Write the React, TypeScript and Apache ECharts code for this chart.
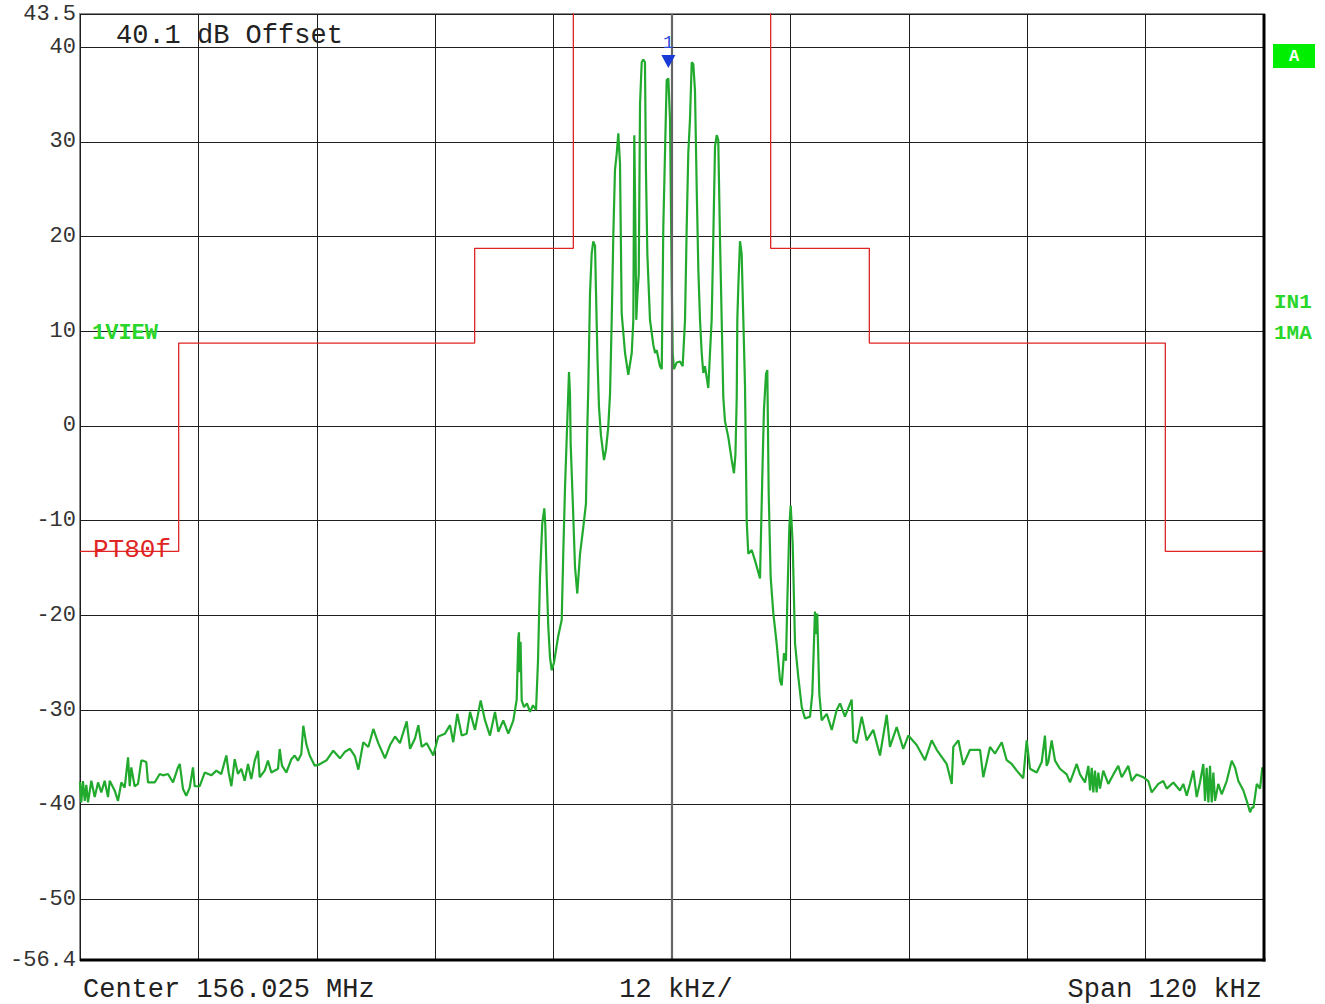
import React, { useEffect, useRef } from "react";
import * as echarts from "echarts";

// Axis ranges (kHz offset from centre, dB)
const FREQ_MIN = -60;
const FREQ_MAX = 60;
const FREQ_DIV = 12;
const LEVEL_MAX = 43.5;
const LEVEL_MIN = -56.4;

// Annotation texts
const OFFSET_TEXT = "40.1 dB Offset";
const CENTER_TEXT = "Center 156.025 MHz";
const DIV_TEXT = "12 kHz/";
const SPAN_TEXT = "Span 120 kHz";
const TRACE_LABEL = "1VIEW";
const LIMIT_LABEL = "PT80f";
const SIDE_LABELS = ["IN1", "1MA"];

// Marker 1
const MARKER_KHZ = -0.37;
const MARKER_DB = 36.7;

// Trace: left noise floor [kHz, dB]
const noiseLeft: number[][] = [
  [-60.0, -37.6], [-59.87, -39.75], [-59.7, -37.5], [-59.52, -39.6], [-59.36, -37.9],
  [-59.19, -39.75], [-58.85, -37.47], [-58.51, -39.2], [-58.17, -37.65], [-57.84, -38.7],
  [-57.5, -37.47], [-57.16, -39.2], [-56.99, -37.47], [-56.48, -38.52], [-56.15, -39.6],
  [-55.81, -37.65], [-55.47, -38.2], [-55.13, -35.0], [-54.96, -38.05], [-54.8, -36.06],
  [-54.46, -38.05], [-54.12, -37.8], [-53.79, -35.35], [-53.62, -35.35], [-53.28, -35.5],
  [-53.11, -37.65], [-52.43, -37.65], [-51.92, -36.76], [-51.59, -36.9], [-51.08, -36.76],
  [-50.57, -37.65], [-50.07, -36.06], [-49.89, -35.7], [-49.56, -38.35], [-49.23, -39.05],
  [-48.88, -38.2], [-48.55, -36.06], [-48.38, -38.05], [-47.87, -38.05], [-47.36, -36.6],
  [-46.69, -36.9], [-46.18, -36.4], [-45.68, -36.76], [-45.17, -34.8], [-44.93, -36.6],
  [-44.66, -38.05], [-44.32, -35.2], [-43.99, -36.76], [-43.65, -36.2], [-43.31, -37.47],
  [-42.97, -35.7], [-42.64, -37.3], [-42.29, -35.35], [-41.96, -34.3], [-41.79, -37.1],
  [-41.28, -36.4], [-40.95, -35.35], [-40.61, -36.6], [-39.93, -36.2], [-39.76, -34.12],
  [-39.53, -35.88], [-39.09, -36.6], [-38.58, -35.2], [-38.24, -34.8], [-37.91, -35.35],
  [-37.57, -34.65], [-37.37, -31.66], [-37.06, -33.6], [-36.72, -34.8], [-36.21, -35.88],
  [-35.85, -35.8], [-35.0, -35.3], [-34.33, -34.3], [-33.65, -35.1], [-33.14, -34.4],
  [-32.63, -34.1], [-32.13, -34.9], [-31.79, -36.3], [-31.29, -33.4], [-30.78, -33.9],
  [-30.27, -32.0], [-29.77, -33.5], [-29.09, -35.1], [-28.58, -33.7], [-28.07, -32.8],
  [-27.57, -33.5], [-26.89, -31.2], [-26.55, -34.1], [-26.05, -33.0], [-25.71, -31.6],
  [-25.37, -33.9], [-24.86, -33.5], [-24.19, -34.8], [-23.69, -32.8], [-23.01, -32.5],
  [-22.5, -31.6], [-22.17, -33.4], [-21.76, -30.4], [-21.31, -32.7], [-20.81, -32.5],
  [-20.47, -30.2], [-19.97, -32.1], [-19.39, -29.0], [-18.95, -31.1], [-18.45, -32.7],
  [-17.94, -30.2], [-17.6, -32.3], [-17.1, -31.1], [-16.59, -32.5], [-16.08, -31.1],
  [-15.74, -28.9],
];

// Trace: modulated carrier
const mainLobe: number[][] = [
  [-15.58, -22.5], [-15.51, -21.8], [-15.44, -26.0], [-15.35, -22.8], [-15.23, -29.0],
  [-15.0, -29.7], [-14.7, -29.3], [-14.39, -30.2], [-14.09, -29.5], [-13.78, -30.0],
  [-13.58, -24.8], [-13.38, -16.0], [-13.15, -10.3], [-12.94, -8.7], [-12.84, -10.5],
  [-12.7, -16.0], [-12.54, -21.2], [-12.36, -24.5], [-12.19, -25.8], [-11.96, -25.0],
  [-11.55, -22.3], [-11.18, -20.5], [-11.02, -13.5], [-10.84, -6.4], [-10.61, 0.6],
  [-10.44, 5.7], [-10.34, 3.4], [-10.27, -1.9], [-10.06, -7.9], [-9.83, -14.9],
  [-9.6, -17.7], [-9.32, -13.5], [-8.99, -10.7], [-8.72, -8.2], [-8.58, -0.1],
  [-8.48, 4.2], [-8.31, 14.0], [-8.14, 18.2], [-7.98, 19.5], [-7.8, 19.0],
  [-7.7, 14.0], [-7.55, 7.0], [-7.4, 2.0], [-7.2, -1.0], [-6.89, -3.6],
  [-6.69, -2.5], [-6.46, -0.1], [-6.28, 3.4], [-6.11, 11.2], [-5.95, 20.0],
  [-5.78, 27.0], [-5.6, 28.8], [-5.44, 30.9], [-5.27, 27.7], [-5.1, 11.9],
  [-4.76, 7.7], [-4.43, 5.4], [-4.08, 7.7], [-3.92, 11.2], [-3.82, 30.7],
  [-3.72, 21.8], [-3.62, 11.2], [-3.5, 14.0], [-3.37, 16.0], [-3.24, 34.0],
  [-3.07, 38.4], [-2.91, 38.7], [-2.74, 38.4], [-2.64, 27.0], [-2.5, 18.2],
  [-2.23, 11.2], [-1.9, 8.6], [-1.72, 7.7], [-1.55, 8.0], [-1.22, 6.3],
  [-1.04, 6.0], [-0.88, 21.0], [-0.71, 28.8], [-0.54, 36.5], [-0.37, 36.7],
  [-0.2, 32.3], [-0.03, 15.4], [0.07, 7.7], [0.2, 6.0], [0.48, 6.7],
  [0.81, 6.8], [1.08, 6.3], [1.32, 11.2], [1.49, 21.0], [1.65, 28.8],
  [1.82, 32.3], [2.0, 38.4], [2.16, 38.2], [2.33, 35.4], [2.5, 25.3],
  [2.67, 16.5], [2.84, 11.2], [3.01, 7.7], [3.17, 5.6], [3.34, 6.3],
  [3.68, 4.0], [3.85, 7.7], [4.02, 11.2], [4.19, 20.0], [4.36, 29.5],
  [4.53, 30.7], [4.69, 30.2], [4.86, 20.0], [5.04, 11.0], [5.2, 3.0],
  [5.37, 0.5], [5.71, -1.2], [6.05, -3.6], [6.28, -5.0], [6.43, -3.0],
  [6.56, 3.0], [6.62, 11.2], [6.72, 14.7], [6.89, 19.5], [7.06, 18.2],
  [7.23, 11.2], [7.4, 4.2], [7.57, -10.0], [7.73, -13.5], [8.08, -13.1],
  [8.41, -14.2], [8.92, -16.1], [9.19, -3.6], [9.32, 1.7], [9.53, 5.5],
  [9.66, 5.9], [9.8, -7.1], [10.0, -16.0], [10.27, -19.8], [10.61, -23.0],
  [10.95, -26.9], [11.12, -27.4], [11.35, -24.0], [11.55, -24.8], [11.69, -18.4],
  [11.89, -10.7], [12.03, -8.4], [12.23, -12.4], [12.47, -23.0], [12.8, -26.5],
  [13.15, -29.7], [13.48, -30.9], [13.99, -30.7], [14.22, -28.3], [14.49, -19.6],
  [14.59, -22.0], [14.72, -19.8], [14.93, -28.3], [15.17, -31.1], [15.68, -30.4],
  [16.19, -32.1], [16.69, -30.0],
];

// Trace: right noise floor
const noiseRight: number[][] = [
  [17.03, -29.3], [17.53, -30.7], [18.21, -28.9], [18.38, -33.2], [18.72, -33.5],
  [19.23, -30.7], [19.73, -33.2], [20.4, -32.1], [21.08, -34.8], [21.76, -30.5],
  [22.09, -33.9], [22.77, -31.8], [23.44, -34.1], [23.95, -32.7], [24.8, -33.7],
  [25.64, -35.3], [26.32, -33.2], [26.83, -34.2], [27.84, -35.7], [28.35, -37.8],
  [28.51, -33.9], [29.02, -33.2], [29.52, -35.8], [30.2, -34.2], [31.22, -34.2],
  [31.55, -37.1], [32.23, -33.9], [32.74, -34.6], [33.42, -33.4], [33.92, -35.3],
  [34.43, -35.7], [34.94, -36.4], [35.6, -37.2], [35.95, -33.2], [36.28, -36.2],
  [36.96, -36.6], [37.47, -35.5], [37.8, -32.7], [37.97, -35.9], [38.14, -35.5],
  [38.48, -33.2], [38.82, -35.35], [39.32, -36.2], [40.0, -36.8], [40.34, -37.65],
  [41.02, -35.7], [41.35, -36.8], [41.86, -37.65], [42.2, -35.9], [42.37, -38.5],
  [42.54, -36.1], [42.7, -38.7], [42.87, -36.4], [43.04, -38.7], [43.21, -36.6],
  [43.38, -38.3], [43.71, -36.4], [44.22, -37.8], [44.73, -36.8], [45.23, -35.9],
  [45.58, -37.1], [46.25, -35.9], [46.59, -37.5], [47.09, -36.8], [47.76, -37.1],
  [48.27, -37.5], [48.62, -38.7], [49.29, -37.8], [49.79, -37.5], [50.14, -38.3],
  [50.81, -37.65], [51.49, -38.5], [51.82, -37.8], [52.17, -39.05], [52.5, -37.8],
  [52.84, -36.4], [53.18, -39.2], [53.51, -37.65], [53.85, -35.7], [54.02, -39.6],
  [54.19, -36.1], [54.36, -39.75], [54.53, -35.9], [54.7, -39.75], [54.87, -36.6],
  [55.04, -39.6], [55.37, -37.8], [55.71, -38.9], [56.22, -37.5], [56.73, -35.35],
  [57.07, -36.1], [57.4, -37.5], [57.91, -38.5], [58.25, -39.6], [58.59, -40.8],
  [58.76, -40.3], [58.93, -40.3], [59.27, -37.8], [59.6, -38.3], [59.83, -36.06],
  [60.0, -36.5],
];

// Limit line (PT80f)
const limitFreq = [-60, -50, -50, -20, -20, -10, -10, 10, 10, 20, 20, 50, 50, 60];
const limitLevel = [-13.25, -13.25, 8.75, 8.75, 18.75, 18.75, 60, 60, 18.75, 18.75, 8.75, 8.75, -13.25, -13.25];

const MONO = '"Liberation Mono", "DejaVu Sans Mono", monospace';

export default function App() {
  const ref = useRef<HTMLDivElement>(null);

  useEffect(() => {
    if (!ref.current) return;
    const chart = echarts.init(ref.current, undefined, { renderer: "svg" });
    const W = 1325;
    const H = 1004;
    const gl = 80;
    const gr = 61;
    const gt = 14;
    const gb = 44;
    const plotRight = W - gr;
    const plotBottom = H - gb;

    const trace = [...noiseLeft, ...mainLobe, ...noiseRight];
    const limit = limitFreq.map((f, i) => [f, limitLevel[i]]);

    const txt = (text: string, x: number, y: number, opts: any = {}) => ({
      type: "text",
      x,
      y,
      silent: true,
      z: 100,
      style: {
        text,
        fill: opts.fill || "#222",
        font: opts.font || `27px ${MONO}`,
        textAlign: opts.align || "left",
        align: opts.align || "left",
        textVerticalAlign: "middle",
        verticalAlign: "middle",
      },
    });

    chart.setOption({
      animation: false,
      backgroundColor: "#ffffff",
      grid: {
        left: gl,
        right: gr,
        top: gt,
        bottom: gb,
        show: true,
        borderColor: "#8a8a8a",
        borderWidth: 2,
        backgroundColor: "#ffffff",
      },
      xAxis: {
        type: "value",
        min: FREQ_MIN,
        max: FREQ_MAX,
        interval: FREQ_DIV,
        axisLine: { show: false },
        axisTick: { show: false },
        axisLabel: { show: false },
        splitLine: { show: true, lineStyle: { color: "#1e1e1e", width: 1 } },
      },
      yAxis: {
        type: "value",
        min: LEVEL_MIN,
        max: LEVEL_MAX,
        splitNumber: 10,
        axisLine: { show: false },
        axisTick: { show: false },
        axisLabel: {
          show: true,
          margin: 4,
          color: "#333",
          fontFamily: "Liberation Mono",
          fontSize: 22,
          showMinLabel: true,
          showMaxLabel: true,
        },
        splitLine: { show: true, lineStyle: { color: "#1e1e1e", width: 1 } },
      },
      series: [
        {
          type: "line",
          name: "limit",
          data: limit,
          showSymbol: false,
          symbol: "none",
          clip: true,
          lineStyle: { color: "#e02424", width: 1.3 },
          z: 2,
          silent: true,
        },
        {
          type: "line",
          name: "trace",
          data: trace,
          showSymbol: false,
          symbol: "none",
          clip: true,
          lineStyle: { color: "#22aa2e", width: 2.2 },
          z: 3,
          silent: true,
          markLine: {
            silent: true,
            symbol: "none",
            label: { show: false },
            lineStyle: { color: "#666666", width: 2.2, type: "solid" },
            data: [{ xAxis: 0 }],
            z: 4,
          },
          markPoint: {
            silent: true,
            data: [
              {
                coord: [MARKER_KHZ, MARKER_DB],
                symbol: "triangle",
                symbolRotate: 180,
                symbolSize: [14, 13],
                symbolOffset: [0, -17],
                itemStyle: { color: "#1a3ad8" },
                label: { show: false },
              },
              {
                coord: [MARKER_KHZ, MARKER_DB],
                symbol: "circle",
                symbolSize: 0,
                itemStyle: { color: "rgba(0,0,0,0)" },
                label: {
                  show: true,
                  formatter: "1",
                  position: "inside",
                  offset: [0, -35],
                  color: "#2a4ad8",
                  fontFamily: "Liberation Mono",
                  fontSize: 18,
                },
              },
            ],
          },
        },
      ],
      graphic: [
        {
          type: "line",
          silent: true,
          z: 90,
          shape: { x1: gl, y1: plotBottom, x2: plotRight + 1.5, y2: plotBottom },
          style: { stroke: "#000", lineWidth: 3 },
        },
        {
          type: "line",
          silent: true,
          z: 90,
          shape: { x1: plotRight, y1: gt, x2: plotRight, y2: plotBottom + 1.5 },
          style: { stroke: "#000", lineWidth: 3 },
        },
        txt(OFFSET_TEXT, 116, 36),
        txt(CENTER_TEXT, 83, 990),
        txt(DIV_TEXT, 676, 990, { align: "center" }),
        txt(SPAN_TEXT, 1262, 990, { align: "right" }),
        txt(TRACE_LABEL, 92, 333, { fill: "#2ad62a", font: `bold 22px ${MONO}` }),
        txt(LIMIT_LABEL, 93, 550, { fill: "#e02424", font: `26px ${MONO}` }),
        txt(SIDE_LABELS[0], 1274, 302, { fill: "#2ad62a", font: `bold 21px ${MONO}` }),
        txt(SIDE_LABELS[1], 1274, 333, { fill: "#2ad62a", font: `bold 21px ${MONO}` }),
        {
          type: "rect",
          silent: true,
          z: 90,
          shape: { x: 1273, y: 44, width: 42, height: 24 },
          style: { fill: "#00ee00" },
        },
        txt("A", 1294, 56, { fill: "#ffffff", align: "center", font: `bold 17px ${MONO}` }),
      ],
    });

    return () => chart.dispose();
  }, []);

  return (
    <div
      ref={ref}
      style={{ position: "fixed", left: 0, top: 0, width: 1325, height: 1004, background: "#fff" }}
    />
  );
}
